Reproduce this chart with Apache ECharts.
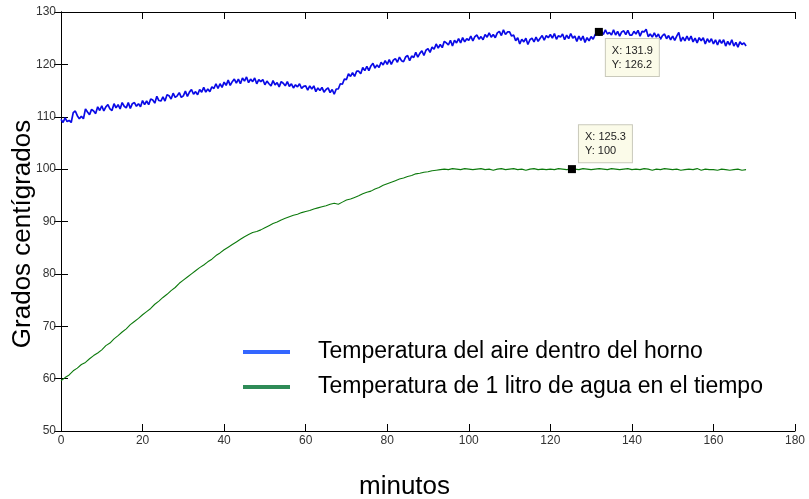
<!DOCTYPE html>
<html>
<head>
<meta charset="utf-8">
<script src="https://cdn.jsdelivr.net/npm/echarts@6/dist/echarts.min.js"></script>
<style>html,body{margin:0;padding:0;background:#fff;}#c{width:809px;height:499px;}</style>
</head>
<body>
<div id="c"></div>
<script>
// ---- data ----
const xTicks = [0, 20, 40, 60, 80, 100, 120, 140, 160, 180];
const yTicks = [50, 60, 70, 80, 90, 100, 110, 120, 130];
const seriesNames = ['Temperatura del aire dentro del horno', 'Temperatura de 1 litro de agua en el tiempo'];
const xTitle = 'minutos';
const yTitle = 'Grados centígrados';

// air temperature, sampled every 0.5 min from 0 to 168
const airStart = 0, airStep = 0.5;
const airTemp = [
109.5,108.9,109.8,109.1,109.3,108.9,110.8,111.1,110.2,109.6,110.1,109.6,111.5,110.9,110.4,111.4,111.1,110.6,111.9,111.2,
112.1,111.1,111.9,112.3,111.5,111.2,112.5,111.7,112.3,111.5,112.7,112.0,111.7,112.7,111.6,112.5,112.7,112.0,112.5,111.9,
113.1,112.3,113.0,112.3,113.4,113.2,112.6,113.9,113.1,113.0,113.8,113.0,114.2,114.0,113.4,114.5,113.7,114.0,114.6,113.7,
114.0,114.9,113.9,114.7,115.2,114.3,114.8,114.2,115.2,114.7,115.6,114.7,115.3,114.8,115.7,115.4,116.3,115.4,116.3,115.6,
116.6,116.0,117.0,116.0,116.7,117.2,116.4,117.2,116.3,117.4,116.8,117.6,116.5,117.2,116.7,117.4,116.3,117.1,116.7,117.1,
116.1,116.8,116.3,115.9,116.9,116.1,116.5,115.7,116.7,116.4,115.9,116.7,115.8,116.3,115.5,116.1,115.7,116.3,115.4,115.8,
115.9,115.1,115.9,115.3,115.9,114.8,115.5,115.0,115.6,114.7,115.2,115.5,114.6,115.2,114.3,115.3,115.3,116.3,116.2,117.2,
117.1,118.2,117.7,118.4,117.7,118.7,118.7,118.2,119.4,118.8,119.6,118.8,119.7,120.2,119.3,119.9,119.4,120.4,119.9,120.7,
120.0,120.9,120.0,120.8,121.1,120.4,121.4,120.7,120.5,121.4,121.7,120.7,121.6,121.3,122.3,121.4,122.1,122.6,121.7,122.7,
123.0,122.3,123.3,122.9,123.9,123.1,123.8,123.2,124.4,124.1,123.7,124.6,123.5,124.6,124.1,124.9,124.1,125.1,124.3,124.9,
124.6,125.4,124.5,125.3,125.6,124.8,125.3,124.7,125.7,125.2,126.0,125.2,125.7,125.1,126.0,126.3,125.5,126.6,125.7,126.2,
126.2,125.4,125.6,124.5,125.1,123.9,124.8,124.3,125.0,123.8,124.7,125.0,124.3,125.2,124.4,125.0,125.5,124.6,125.5,125.1,
125.7,125.0,125.9,124.8,125.5,125.2,125.8,124.7,125.6,124.9,125.9,125.0,125.4,124.4,125.4,124.6,125.4,124.2,125.1,124.5,
125.3,124.8,125.7,126.1,125.5,126.4,125.7,126.6,125.8,126.1,125.6,126.6,125.6,126.3,125.4,126.2,126.4,125.7,126.5,125.6,
125.6,126.3,125.8,126.5,125.4,126.3,126.2,126.7,125.3,125.8,125.2,126.0,125.2,125.8,124.8,125.5,125.8,124.9,125.5,124.7,
125.4,124.6,125.4,126.1,124.4,125.2,124.5,125.4,124.6,125.4,124.3,125.0,124.1,125.1,124.5,125.1,123.9,124.9,124.2,124.9,
123.9,124.7,123.7,124.7,124.0,124.7,123.5,124.4,123.7,124.7,123.5,124.2,123.3,124.3,123.8,124.1,123.5
];

// water temperature, sampled every 1 min from 0 to 168
const waterStart = 0, waterStep = 1;
const waterTemp = [
59.6,60.2,60.7,61.5,62.0,62.7,63.1,63.8,64.4,64.9,
65.5,66.3,66.8,67.6,68.2,68.9,69.5,70.3,70.9,71.5,
72.2,72.8,73.4,74.2,74.8,75.5,76.1,76.8,77.4,78.2,
78.8,79.4,80.0,80.6,81.2,81.7,82.3,82.8,83.5,84.0,
84.6,85.1,85.6,86.1,86.6,87.1,87.5,87.9,88.1,88.4,
88.8,89.2,89.6,89.9,90.3,90.6,90.9,91.2,91.4,91.7,
91.9,92.1,92.4,92.6,92.8,93.0,93.3,93.5,93.3,93.7,
94.1,94.3,94.6,94.9,95.3,95.6,95.8,96.2,96.5,96.9,
97.2,97.5,97.8,98.1,98.3,98.6,98.8,99.1,99.2,99.4,
99.5,99.7,99.8,99.9,100.0,99.9,100.1,100.0,99.9,100.1,
100.0,99.9,100.0,100.1,99.9,100.0,99.8,100.0,100.1,99.9,
100.0,100.1,99.9,100.0,99.8,100.0,100.1,99.9,100.0,99.9,
100.0,99.9,100.1,100.0,99.9,100.0,100.0,99.9,100.1,100.0,
99.9,100.0,100.1,100.0,99.9,100.1,100.0,99.9,100.0,100.1,
99.9,100.0,99.9,100.1,100.0,99.8,100.0,99.9,100.1,100.0,
99.9,100.0,99.8,99.9,100.0,99.9,100.1,99.8,100.0,99.9,
99.9,99.8,100.0,99.9,99.8,99.9,100.0,99.8,99.9
];

// data tips [x, y]
const airTip = [131.9, 126.2];
const waterTip = [125.3, 100];

// ---- build ----
const airData = airTemp.map((v, i) => [airStart + i * airStep, v]);
const waterData = waterTemp.map((v, i) => [waterStart + i * waterStep, v]);

const FONT = "'Liberation Sans', Arial, sans-serif";
const tipLabel = (pos) => ({
  show: true, position: pos, align: 'left', verticalAlign: 'top',
  backgroundColor: '#fbfbe9', borderColor: '#c9c9bb', borderWidth: 1,
  padding: [5, 6, 4, 6], lineHeight: 14, fontSize: 11, color: '#222', fontFamily: FONT,
  formatter: (p) => 'X: ' + p.data.coord[0] + '\nY: ' + p.data.coord[1]
});

const axisCommon = {
  type: 'value', splitLine: { show: false },
  axisLine: { show: true, lineStyle: { color: '#000', width: 1 } },
  axisTick: { show: true, inside: true, length: 7, lineStyle: { color: '#000' } }
};

const chart = echarts.init(document.getElementById('c'), null, { renderer: 'canvas' });
chart.setOption({
  animation: false,
  backgroundColor: '#fff',
  grid: { left: 61, right: 14, top: 12, bottom: 68 },
  xAxis: [
    Object.assign({}, axisCommon, {
      min: xTicks[0], max: xTicks[xTicks.length - 1], interval: xTicks[1] - xTicks[0], position: 'bottom',
      axisLabel: { margin: 4, fontSize: 12, color: '#333', fontFamily: FONT }
    }),
    Object.assign({}, axisCommon, {
      min: xTicks[0], max: xTicks[xTicks.length - 1], interval: xTicks[1] - xTicks[0], position: 'top',
      axisLabel: { show: false }
    })
  ],
  yAxis: [
    Object.assign({}, axisCommon, {
      min: yTicks[0], max: yTicks[yTicks.length - 1], interval: yTicks[1] - yTicks[0], position: 'left',
      axisLabel: { margin: 5, fontSize: 12, color: '#333', fontFamily: FONT }
    }),
    Object.assign({}, axisCommon, {
      min: yTicks[0], max: yTicks[yTicks.length - 1], interval: yTicks[1] - yTicks[0], position: 'right',
      axisLabel: { show: false }
    })
  ],
  legend: {
    orient: 'vertical', left: 243, top: 339, padding: 0, itemWidth: 47, itemHeight: 4, itemGap: 9,
    icon: 'rect',
    textStyle: { fontSize: 23, lineHeight: 26, color: '#000', fontFamily: FONT, padding: [0, 0, 0, 23] },
    data: [
      { name: seriesNames[0], itemStyle: { color: '#3366ff' } },
      { name: seriesNames[1], itemStyle: { color: '#2e8b57' } }
    ]
  },
  graphic: [
    { type: 'text', left: 'center', top: 474, style: { text: xTitle, font: '26px ' + FONT, fill: '#000' } },
    { type: 'text', x: 23, y: 234, rotation: Math.PI / 2,
      style: { text: yTitle, font: '26px ' + FONT, fill: '#000', align: 'center', verticalAlign: 'middle' } }
  ],
  series: [
    {
      name: seriesNames[0], type: 'line', data: airData, showSymbol: false, symbol: 'none',
      lineStyle: { color: '#0a0ae6', width: 1.7 }, itemStyle: { color: '#3366ff' },
      markPoint: {
        symbol: 'rect', symbolSize: 8, itemStyle: { color: '#000' },
        label: tipLabel([11, 11]),
        data: [{ coord: airTip }]
      }
    },
    {
      name: seriesNames[1], type: 'line', data: waterData, showSymbol: false, symbol: 'none',
      lineStyle: { color: '#0d7a0d', width: 1.1 }, itemStyle: { color: '#2e8b57' },
      markPoint: {
        symbol: 'rect', symbolSize: 8, itemStyle: { color: '#000' },
        label: tipLabel([11, -40]),
        data: [{ coord: waterTip }]
      }
    }
  ]
});
</script>
</body>
</html>
